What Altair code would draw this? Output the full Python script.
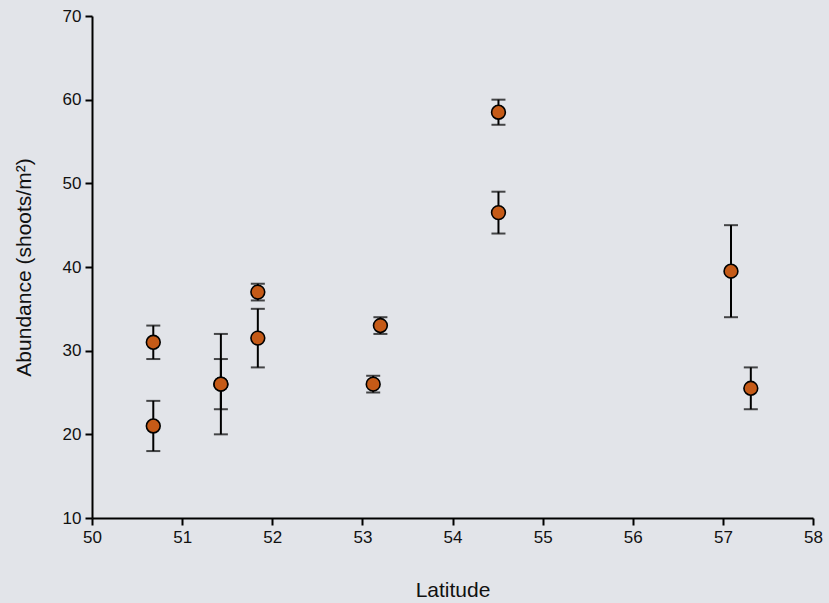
import altair as alt
import pandas as pd

latitude = [50.68, 50.68, 51.43, 51.43, 51.84, 51.84, 53.12, 53.20, 54.51, 54.51, 57.09, 57.31]
abundance = [21.0, 31.0, 26.0, 26.0, 31.5, 37.0, 26.0, 33.0, 46.5, 58.5, 39.5, 25.5]
err_low = [18.0, 29.0, 20.0, 23.0, 28.0, 36.0, 25.0, 32.0, 44.0, 57.0, 34.0, 23.0]
err_high = [24.0, 33.0, 32.0, 29.0, 35.0, 38.0, 27.0, 34.0, 49.0, 60.0, 45.0, 28.0]

df = pd.DataFrame({"lat": latitude, "ab": abundance, "lo": err_low, "hi": err_high})

FONT = "Liberation Sans"
xs = alt.Scale(domain=[50, 58], nice=False, zero=False)
ys = alt.Scale(domain=[10, 70], nice=False, zero=False)

x_axis = alt.Axis(title="Latitude", values=list(range(50, 59)), format="d", grid=False,
                  domainColor="black", domainWidth=2, tickColor="black", tickWidth=2, tickSize=7,
                  labelFont=FONT, labelFontSize=17, labelColor="#111", labelPadding=4,
                  labelFlush=False,
                  titleFont=FONT, titleFontSize=21, titleFontWeight="normal", titleColor="#111",
                  titlePadding=34)
y_axis = alt.Axis(title="Abundance (shoots/m²)", values=list(range(10, 71, 10)), grid=False,
                  domainColor="black", domainWidth=2, tickColor="black", tickWidth=2, tickSize=7,
                  labelFont=FONT, labelFontSize=17, labelColor="#111", labelPadding=4,
                  labelFlush=False,
                  titleFont=FONT, titleFontSize=21, titleFontWeight="normal", titleColor="#111",
                  titlePadding=28)

base = alt.Chart(df)

rules = base.mark_rule(color="black", strokeWidth=2).encode(
    x=alt.X("lat:Q", scale=xs, axis=x_axis),
    y=alt.Y("lo:Q", scale=ys, axis=y_axis),
    y2="hi:Q",
)
caps_lo = base.mark_tick(color="black", thickness=2, size=14, orient="horizontal").encode(
    x=alt.X("lat:Q", scale=xs), y=alt.Y("lo:Q", scale=ys)
)
caps_hi = base.mark_tick(color="black", thickness=2, size=14, orient="horizontal").encode(
    x=alt.X("lat:Q", scale=xs), y=alt.Y("hi:Q", scale=ys)
)
points = base.mark_point(filled=True, shape="circle", size=190, fill="#c55a17", stroke="black",
                         strokeWidth=1.6, opacity=1, fillOpacity=1).encode(
    x=alt.X("lat:Q", scale=xs), y=alt.Y("ab:Q", scale=ys)
)

chart = alt.layer(rules, caps_lo, caps_hi, points).properties(
    width=721, height=502, background="#e2e4e9",
    padding={"left": 92, "top": 16, "right": 16, "bottom": 85},
    autosize=alt.AutoSizeParams(type="none"),
).configure_view(stroke=None)

chart.save("out.html", embed_options={"renderer": "svg", "actions": False})
